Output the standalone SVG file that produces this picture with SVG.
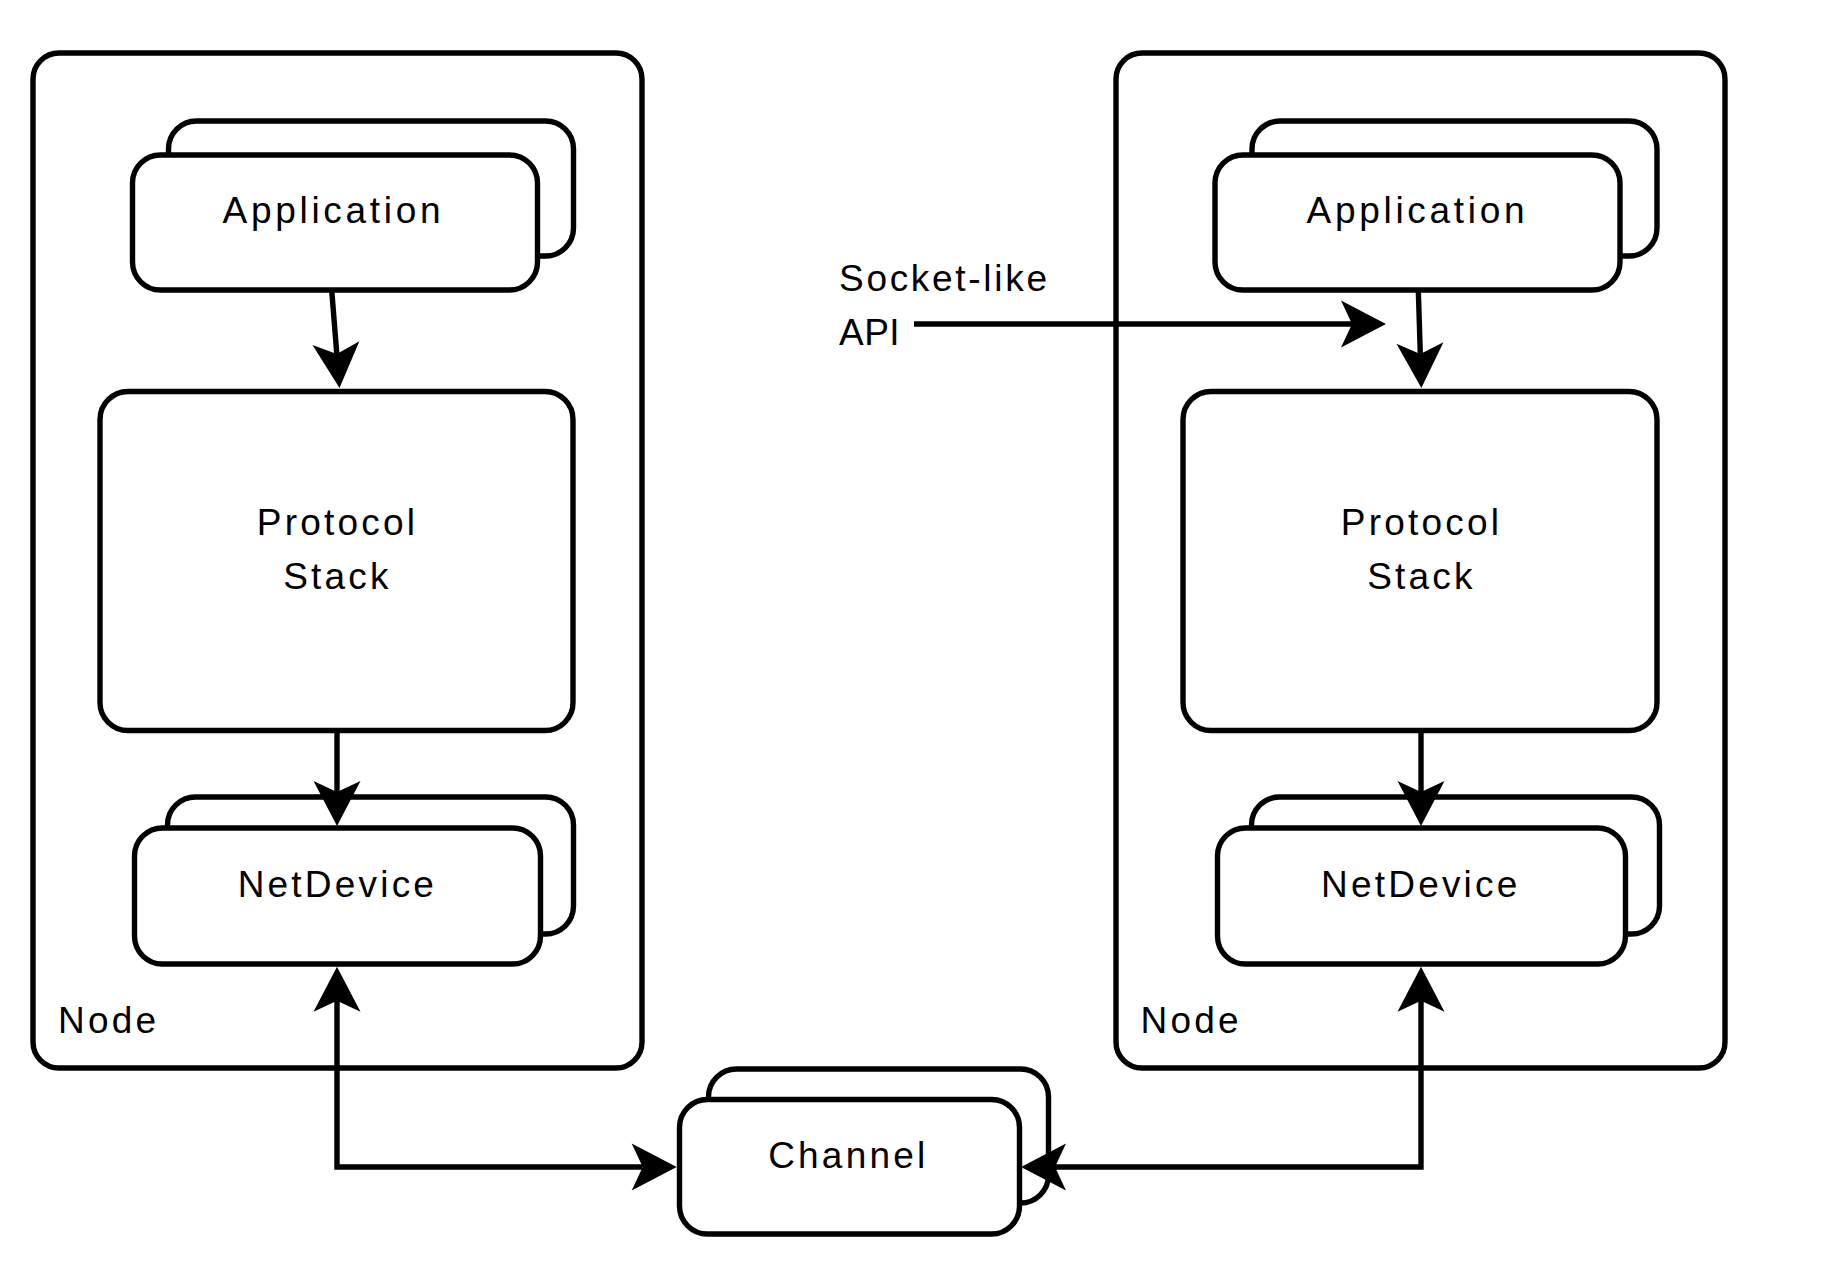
<svg xmlns="http://www.w3.org/2000/svg" width="1824" height="1268" viewBox="0 0 1824 1268">
<style>
.box{fill:#fff;stroke:#000;stroke-width:5.4}
.t{font-family:"Liberation Sans",Arial,sans-serif;font-size:37px;letter-spacing:3.2px;fill:#000}
.c{text-anchor:middle}
.app{letter-spacing:3.7px}
.con{fill:none;stroke:#000;stroke-width:5.4}
</style>
<defs>
<marker id="arr" markerUnits="userSpaceOnUse" markerWidth="70" markerHeight="70" viewBox="-15 -35 70 70" refX="0" refY="0" orient="auto-start-reverse" overflow="visible">
<path d="M34,0 L-11,-23.5 L0,0 L-11,23.5 Z" fill="#000"/>
</marker>
</defs>
<rect width="1824" height="1268" fill="#fff"/>
<g id="node-left">
<rect class="box" x="33" y="53" width="609" height="1015" rx="26"/>
<text class="t" x="58" y="1032.5">Node</text>
</g>
<g id="node-right">
<rect class="box" x="1116" y="53" width="609" height="1015" rx="26"/>
<text class="t" x="1140.6" y="1032.5">Node</text>
</g>
<g id="app-left">
<rect class="box" x="168.5" y="121" width="405" height="135" rx="28"/>
<rect class="box" x="132.5" y="155" width="405" height="135" rx="28"/>
<text class="t c app" x="333.4" y="223">Application</text>
</g>
<g id="app-right">
<rect class="box" x="1252" y="121" width="405" height="135" rx="28"/>
<rect class="box" x="1215" y="155" width="405" height="135" rx="28"/>
<text class="t c app" x="1417.4" y="223">Application</text>
</g>
<g id="stack-left">
<rect class="box" x="100" y="391.5" width="473" height="339" rx="28"/>
<text class="t c" x="337.5" y="535">Protocol</text>
<text class="t c" x="337.5" y="589">Stack</text>
</g>
<g id="stack-right">
<rect class="box" x="1183" y="391.5" width="474" height="339" rx="28"/>
<text class="t c" x="1421.5" y="535">Protocol</text>
<text class="t c" x="1421.5" y="589">Stack</text>
</g>
<g id="netdev-left">
<rect class="box" x="167.5" y="797" width="406" height="137" rx="28"/>
<rect class="box" x="134.5" y="828" width="406" height="136" rx="28"/>
<text class="t c" x="337.4" y="896.7">NetDevice</text>
</g>
<g id="netdev-right">
<rect class="box" x="1251.5" y="797" width="408" height="137" rx="28"/>
<rect class="box" x="1217.5" y="828" width="408" height="136" rx="28"/>
<text class="t c" x="1420.8" y="896.7">NetDevice</text>
</g>
<g id="channel">
<rect class="box" x="708.5" y="1069" width="340" height="134" rx="28"/>
<rect class="box" x="679.5" y="1099.5" width="340" height="134.5" rx="28"/>
<text class="t c" x="848.3" y="1167.7">Channel</text>
</g>
<g id="api-label">
<text class="t" x="839" y="291" style="letter-spacing:2.7px">Socket-like</text>
<text class="t" x="839" y="345" style="letter-spacing:0.5px">API</text>
</g>
<g id="connectors">
<path class="con" d="M331.7,290 L336.8,354" marker-end="url(#arr)"/>
<path class="con" d="M337,731 L337,792" marker-end="url(#arr)"/>
<path class="con" d="M1418.3,290 L1420.3,354" marker-end="url(#arr)"/>
<path class="con" d="M1421,731 L1421,792" marker-end="url(#arr)"/>
<path class="con" d="M337,1000.7 L337,1167 L642.7,1167" marker-start="url(#arr)" marker-end="url(#arr)"/>
<path class="con" d="M1421,1000.7 L1421,1167 L1055,1167" marker-start="url(#arr)" marker-end="url(#arr)"/>
<path class="con" d="M914,324 L1352,324" marker-end="url(#arr)"/>
</g>
</svg>
